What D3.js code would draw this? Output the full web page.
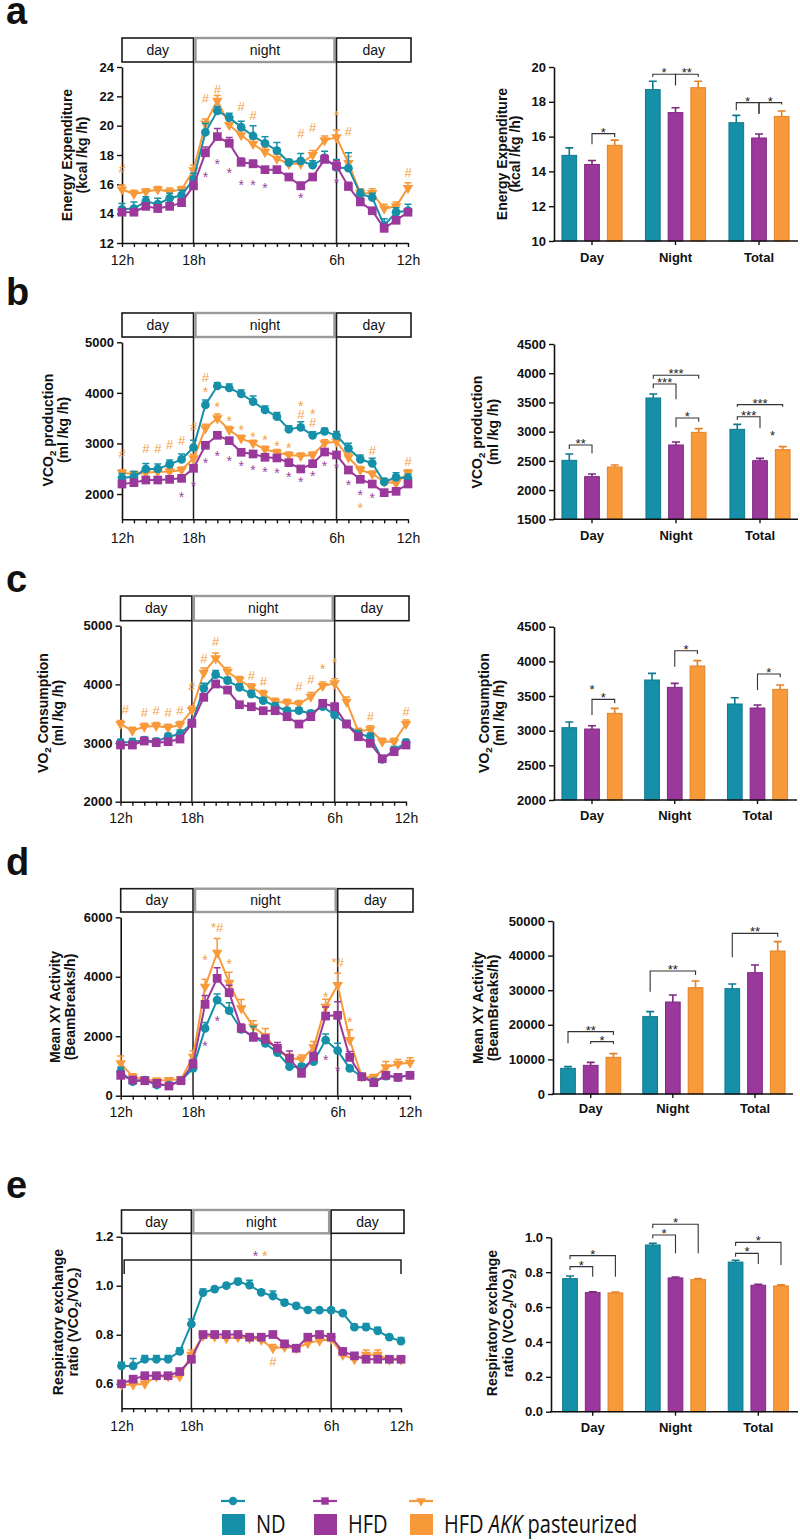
<!DOCTYPE html>
<html><head><meta charset="utf-8">
<script src="https://cdn.jsdelivr.net/npm/d3@7/dist/d3.min.js"></script>
<style>body{margin:0;background:#fff}svg{display:block}</style>
</head><body>
<svg id="chart" width="800" height="1540"></svg>
<script>
// ---------------- DATA ----------------
const hourIdx = [0,1,2,3,4,5,6,7,8,9,10,11,12,13,14,15,16,17,18,19,20,21,22,23,24];
const xLabelIdx = [0,6,18,24];
const xLabels = ["12h","18h","6h","12h"];
const barCats = ["Day","Night","Total"];
const seriesKeys = ["ND","HFD","AKK"];
const legendLabels = ["ND","HFD","HFD AKK pasteurized"];

// a: Energy expenditure
const aND  = [14.3,14.35,14.85,14.65,15.05,15.25,16.35,19.55,21.0,20.55,19.9,19.3,18.8,18.3,17.5,17.6,17.3,17.8,17.15,17.1,15.35,15.1,13.2,14.1,14.2];
const aHFD = [14.1,14.1,14.5,14.35,14.5,14.75,15.9,18.15,19.25,18.8,17.5,17.4,17.0,17.0,16.5,15.9,16.5,17.7,17.25,15.85,14.8,14.2,13.0,13.55,14.1];
const aAKK = [15.65,15.35,15.5,15.65,15.5,15.65,16.95,20.15,21.7,20.05,19.35,18.75,18.2,17.75,17.4,17.4,18.0,19.0,19.2,17.45,15.4,15.4,14.35,14.5,15.75];
const aNDerr  = [0.4,0.45,0.3,0.4,0.35,0.35,0.4,0.6,0.3,0.3,0.4,0.7,0.45,0.55,0.2,0.5,0.3,0.45,0.55,1.05,0.3,0.3,0.45,0.3,0.45];
const aHFDerr = [0.2,0.2,0.2,0.25,0.2,0.25,0.3,0.4,0.55,0.4,0.3,0.25,0.2,0.2,0.2,0.25,0.2,0.3,0.35,0.3,0.25,0.2,0.3,0.2,0.2];
const aAKKerr = [0.3,0.25,0.2,0.2,0.25,0.2,0.35,0.3,0.35,0.3,0.3,0.3,0.3,0.3,0.3,0.3,0.3,0.3,0.5,0.45,0.3,0.3,0.3,0.3,0.35];
const aAnn = [["o",0,17.1,"#"],["o",7,21.85,"#"],["o",8,22.5,"#"],["o",10,21.3,"#"],["o",11,20.7,"#"],["o",15,19.45,"#"],["o",16,19.9,"#"],["o",18,20.9,"*"],["o",19,19.6,"#"],["o",24,16.85,"#"],
  ["p",7,16.7,"*"],["p",8,17.6,"*"],["p",9,17.0,"*"],["p",10,16.17,"*"],["p",11,16.17,"*"],["p",12,15.95,"*"],["p",15,15.27,"*"],["p",18,16.33,"*"]];
const aBarND = [14.92,18.7,16.8], aBarNDerr = [0.43,0.48,0.42];
const aBarHFD = [14.4,17.38,15.92], aBarHFDerr = [0.23,0.28,0.23];
const aBarAKK = [15.5,18.81,17.16], aBarAKKerr = [0.3,0.37,0.31];
const aBrk = [[0,1,2,16.17,15.56,15.98,"*"],[1,0,1,19.58,19.43,18.95,"*"],[1,1,2,19.58,18.95,19.43,"**"],[2,0,1,17.95,17.51,17.32,"*"],[2,1,2,17.95,17.32,17.85,"*"]];
const aStars = [];

// b: VCO2
const bND  = [2320,2343,2495,2495,2587,2686,2920,3761,4136,4097,3978,3827,3662,3530,3280,3319,3161,3240,3154,2904,2686,2607,2238,2330,2310];
const bHFD = [2198,2225,2277,2277,2290,2310,2508,2963,3161,3055,2825,2792,2726,2713,2620,2495,2600,2831,2772,2475,2290,2198,2027,2053,2198];
const bAKK = [2422,2390,2422,2442,2442,2475,2706,3299,3497,3266,3101,3003,2884,2818,2772,2752,2772,3003,3036,2726,2475,2396,2244,2211,2422];
const bNDerr  = [86,100,110,100,86,105,145,100,66,80,80,112,80,80,70,112,72,60,80,100,86,100,72,92,86];
const bHFDerr = [40,40,45,40,40,45,60,60,70,60,50,50,50,50,50,50,50,55,60,60,50,50,40,40,40];
const bAKKerr = [60,60,60,65,60,60,80,80,85,70,60,60,60,60,60,60,60,70,80,80,70,60,60,60,60];
const bAnn = [["o",0,2805,"#"],["o",2,2904,"#"],["o",3,2904,"#"],["o",4,2989,"#"],["o",5,3055,"#"],["o",6,3332,"#"],["o",7,4308,"#"],["o",7,4084,"*"],["o",8,3780,"*"],["o",9,3497,"*"],["o",10,3319,"*"],["o",11,3187,"*"],["o",12,3121,"*"],["o",13,3016,"*"],["o",14,2970,"*"],["o",15,3807,"*"],["o",15,3583,"#"],["o",16,3649,"*"],["o",16,3411,"#"],["o",21,2858,"#"],["o",24,2640,"#"],["o",20,1783,"*"],
  ["p",5,2001,"*"],["p",6,2225,"*"],["p",7,2673,"*"],["p",8,2818,"*"],["p",9,2706,"*"],["p",10,2607,"*"],["p",11,2541,"*"],["p",12,2488,"*"],["p",13,2469,"*"],["p",14,2403,"*"],["p",15,2291,"*"],["p",16,2423,"*"],["p",17,2620,"*"],["p",18,2574,"*"],["p",19,2244,"*"],["p",20,2047,"*"],["p",21,1981,"*"]];
const bBarND = [2509,3576,3040], bBarNDerr = [109,68,85];
const bBarHFD = [2230,2772,2503], bBarHFDerr = [45,51,40];
const bBarAKK = [2395,2988,2692], bBarAKKerr = [34,63,51];
const bBrk = [[0,0,1,2772,2703,2629,"**"],[1,0,2,3964,3907,3907,"***"],[1,0,1,3815,3741,3553,"***"],[1,1,2,3234,3074,3171,"*"],[2,0,2,3462,3428,3428,"***"],[2,0,1,3256,3199,3057,"***"]];
const bStars = [[2,1.55,2971,"*"]];

// c: VO2
const cND  = [3006,3017,3051,3023,3108,3153,3335,3932,4165,4063,3949,3835,3722,3631,3551,3551,3506,3620,3478,3324,3153,3108,2722,2881,3006];
const cHFD = [2966,2966,3034,3006,3023,3068,3335,3779,4006,3903,3653,3619,3551,3551,3449,3324,3449,3676,3619,3324,3108,2994,2733,2852,2966];
const cAKK = [3324,3210,3278,3290,3261,3307,3563,4199,4443,4216,4074,3949,3835,3705,3688,3665,3790,3972,4017,3705,3193,3233,3023,3023,3324];
const cNDerr  = [60,60,50,60,60,70,70,85,70,60,60,60,50,50,50,50,50,60,60,60,60,60,60,60,60];
const cHFDerr = [40,40,40,40,40,40,60,60,60,50,50,50,50,50,50,50,50,60,60,50,50,40,40,40,40];
const cAKKerr = [60,60,60,60,60,60,70,80,90,70,60,60,60,60,60,60,70,70,80,80,60,60,60,60,70];
const cAnn = [["o",0.4,3574,"#"],["o",2,3517,"#"],["o",3,3562,"#"],["o",4,3517,"#"],["o",5,3562,"#"],["o",6,3972,"#"],["o",7,4437,"#"],["o",8,4727,"#"],["o",11,4159,"#"],["o",12,4045,"#"],["o",15,3960,"#"],["o",16,4085,"#"],["o",17,4312,"*"],["o",18,4415,"*"],["o",21,3449,"#"],["o",24,3534,"#"]];
const cBarND = [3043,3731,3385], cBarNDerr = [82,96,91];
const cBarHFD = [3024,3625,3327], cBarHFDerr = [48,58,43];
const cBarAKK = [3250,3933,3596], cBarAKKerr = [72,77,63];
const cBrk = [[0,1,2,3452,3226,3394,"*"],[1,1,2,4154,3923,4106,"*"],[2,1,2,3817,3587,3769,"*"]];
const cStars = [[0,1,3635,"*"]];

// d: XY activity
const dND  = [807,471,527,359,359,504,919,2264,3217,2859,2231,1984,1760,1446,975,975,1143,1872,1513,919,639,471,661,617,695];
const dHFD = [684,527,504,415,325,504,1065,3072,3946,3464,2264,1962,1895,1592,1256,751,1312,2679,2702,1289,639,437,684,617,684];
const dAKK = [1087,639,549,504,527,549,1312,3666,4809,3800,2937,2320,2007,1536,1256,1222,1625,2993,3722,1872,639,617,953,1065,1110];
const dNDerr  = [150,80,60,60,60,60,150,200,200,270,150,340,150,200,150,100,120,200,250,100,80,80,80,80,100];
const dHFDerr = [150,80,80,60,60,60,150,300,360,250,150,150,150,200,250,150,150,300,460,200,100,80,100,100,100];
const dAKKerr = [250,100,80,80,60,60,200,250,480,350,300,200,250,150,150,150,200,250,400,350,100,100,200,150,170];
const dAnn = [["o",8,5661,"*#"],["o",7,4675,"*"],["o",9,4540,"*"],["o",18,4473,"*#"],["o",17,3419,"*"],["o",19,2567,"*"],["p",7,1782,"*"],["p",8,2601,"*"],["p",17,1312,"*"],["p",18,919,"*"]];
const dBarND = [7418,22351,30443], dBarNDerr = [482,1445,1349];
const dBarHFD = [8285,26590,35068], dBarHFDerr = [867,2023,2216];
const dBarAKK = [10597,30732,41330], dBarAKKerr = [1060,1927,2697];
const dBrk = [[0,0,2,18016,14643,17053,"**"],[0,1,2,15125,14450,14450,"*"],[1,0,2,35549,29577,34393,"**"],[2,0,2,46436,39499,45473,"**"]];
const dStars = [];

// e: RER
const eND  = [0.673,0.673,0.700,0.700,0.700,0.732,0.844,0.972,0.986,1.000,1.017,1.002,0.973,0.958,0.931,0.918,0.901,0.900,0.900,0.888,0.831,0.831,0.816,0.790,0.774];
const eHFD = [0.600,0.619,0.633,0.633,0.633,0.650,0.700,0.801,0.801,0.801,0.801,0.790,0.790,0.801,0.763,0.745,0.790,0.801,0.790,0.732,0.714,0.700,0.700,0.700,0.700];
const eAKK = [0.596,0.596,0.600,0.630,0.630,0.630,0.718,0.795,0.793,0.786,0.790,0.786,0.779,0.745,0.750,0.745,0.766,0.776,0.782,0.718,0.700,0.718,0.718,0.698,0.698];
const eNDerr  = [0.015,0.03,0.015,0.015,0.015,0.015,0.02,0.015,0.01,0.01,0.012,0.02,0.01,0.02,0.012,0.01,0.01,0.01,0.01,0.01,0.012,0.015,0.015,0.01,0.015];
const eHFDerr = [0.008,0.01,0.01,0.01,0.01,0.01,0.012,0.01,0.01,0.01,0.01,0.01,0.01,0.01,0.01,0.01,0.01,0.01,0.01,0.01,0.01,0.01,0.01,0.01,0.01];
const eAKKerr = [0.01,0.01,0.015,0.01,0.01,0.01,0.02,0.01,0.012,0.01,0.01,0.012,0.012,0.015,0.012,0.012,0.012,0.012,0.012,0.012,0.012,0.02,0.02,0.012,0.01];
const eAnn = [["o",13,0.691,"#"],["p",11.5,1.135,"*"],["o",12.3,1.135,"*"]];
const eBracket = [0.23,24,1.105,1.048];
const eBarND = [0.763,0.956,0.858], eBarNDerr = [0.015,0.01,0.01];
const eBarHFD = [0.683,0.767,0.725], eBarHFDerr = [0.005,0.005,0.005];
const eBarAKK = [0.681,0.757,0.721], eBarAKKerr = [0.005,0.006,0.006];
const eBrk = [[0,0,2,0.895,0.874,0.774,"*"],[0,0,1,0.832,0.813,0.774,"*"],[1,0,2,1.075,1.052,0.908,"*"],[1,0,1,1.013,0.994,0.908,"*"],[2,0,2,0.971,0.950,0.841,"*"],[2,0,1,0.908,0.889,0.847,"*"]];
const eStars = [];

// ---------------- DRAWING ----------------
const svg = d3.select("#chart");
svg.append("rect").attr("width",800).attr("height",1540).attr("fill","#fff");
const COL = {ND:"#1690a8", HFD:"#9b389c", AKK:"#f8993a"};
const DARK = {ND:"#10788d", HFD:"#7e2a80", AKK:"#e3822a"};
const ANN = {o:"#f4a044", p:"#9c44a2"};
const FONT = "'Liberation Sans', Arial, Helvetica, sans-serif";
const drawOrder = ["AKK","ND","HFD"];
const sym = {
  ND: d3.symbol().type(d3.symbolCircle).size(60)(),
  HFD: d3.symbol().type(d3.symbolSquare).size(76)(),
  AKK: d3.symbol().type(d3.symbolTriangle).size(48)()
};

function styleAxis(a){
  a.select(".domain").attr("stroke","#111").attr("stroke-width",1.6);
  a.selectAll(".tick line").attr("stroke","#111").attr("stroke-width",1.4);
  a.selectAll("text").attr("font-family",FONT).attr("fill","#111").attr("font-weight","bold").attr("font-size",13);
}
function yTitle(cx, cy, parts, fs){
  const t = svg.append("text").attr("transform",`translate(${cx},${cy}) rotate(-90)`)
    .attr("text-anchor","middle").attr("dominant-baseline","central")
    .attr("font-family",FONT).attr("font-weight","bold").attr("font-size",fs).attr("fill","#111");
  let prevSub = false;
  parts.forEach(([s, sub]) => {
    const ts = t.append("tspan").text(s);
    if (sub) ts.attr("font-size", fs*0.7).attr("dy", fs*0.3);
    else if (prevSub) ts.attr("dy", -fs*0.3);
    prevSub = !!sub;
  });
}
function panelLetter(l, y){
  svg.append("text").attr("x",6).attr("y",y).attr("font-family",FONT).attr("font-weight","bold").attr("font-size",38).attr("fill","#111").text(l);
}

function linePanel(P){
  const x = d3.scaleLinear().domain([0,24]).range(P.xr);
  const y = d3.scaleLinear().domain(P.yd).range(P.yr);
  const y0 = P.yr[0];
  const g = svg.append("g");
  const boxes = [
    {a:x(0), b:x(6), t:"day", c:"#1a1a1a", w:1.6},
    {a:x(6)+2, b:x(18)-2, t:"night", c:"#9a9a9a", w:2.4},
    {a:x(18), b:x(24)+3, t:"day", c:"#1a1a1a", w:1.6}];
  boxes.forEach(bx => {
    g.append("rect").attr("x",bx.a).attr("y",P.hdr[0]).attr("width",bx.b-bx.a).attr("height",P.hdr[1]-P.hdr[0])
      .attr("fill","#fff").attr("stroke",bx.c).attr("stroke-width",bx.w);
    g.append("text").attr("x",(bx.a+bx.b)/2).attr("y",(P.hdr[0]+P.hdr[1])/2+5).attr("text-anchor","middle")
      .attr("font-family",FONT).attr("font-size",14).attr("fill","#111").text(bx.t);
  });
  [6,18].forEach(i => g.append("line").attr("x1",x(i)).attr("x2",x(i)).attr("y1",P.hdr[1]).attr("y2",y0)
    .attr("stroke","#222").attr("stroke-width",1.5));
  const xa = g.append("g").attr("transform",`translate(0,${y0})`)
    .call(d3.axisBottom(x).tickValues(hourIdx).tickSize(4).tickSizeOuter(0)
      .tickFormat(i => { const k = xLabelIdx.indexOf(i); return k >= 0 ? xLabels[k] : ""; }));
  styleAxis(xa);
  xa.selectAll("text").attr("font-weight","normal").attr("font-size",14).attr("y",P.xlab - y0).attr("dy",0);
  const ya = g.append("g").attr("transform",`translate(${P.xr[0]},0)`)
    .call(d3.axisLeft(y).tickValues(P.yt).tickSize(5).tickSizeOuter(0).tickFormat(P.fmt));
  styleAxis(ya);
  if (P.bracket){
    const [i0,i1,v,leg] = P.bracket;
    g.append("path").attr("d",`M${x(i0)},${y(leg)}V${y(v)}H${x(i1)}V${y(leg)}`).attr("fill","none").attr("stroke","#222").attr("stroke-width",1.5);
  }
  const data = {ND:P.nd, HFD:P.hfd, AKK:P.akk};
  const errs = {ND:P.nde, HFD:P.hfde, AKK:P.akke};
  const line = d3.line().x((d,i) => x(i)).y(d => y(d));
  drawOrder.forEach(k => {
    const vals = data[k];
    g.append("path").attr("d", line(vals)).attr("fill","none").attr("stroke",COL[k]).attr("stroke-width",2);
    vals.forEach((v,i) => {
      const yt = y(v + errs[k][i]);
      g.append("path").attr("d",`M${x(i)},${y(v)}V${yt}M${x(i)-3.5},${yt}H${x(i)+3.5}`)
        .attr("stroke",COL[k]).attr("stroke-width",1.5).attr("fill","none");
    });
    g.selectAll(null).data(vals).enter().append("path")
      .attr("transform",(d,i) => `translate(${x(i)},${y(d)})` + (k === "AKK" ? " rotate(180)" : ""))
      .attr("d", sym[k]).attr("fill",COL[k]);
  });
  P.ann.forEach(([c,i,v,t]) => {
    const hasHash = t.includes("#");
    const fs = hasHash ? 13 : 14;
    const off = hasHash ? 0.36*fs : 0.58*fs;
    g.append("text").attr("x",x(i)).attr("y",y(v)+off).attr("text-anchor","middle")
      .attr("font-family",FONT).attr("font-size",fs).attr("fill",ANN[c]).text(t);
  });
  yTitle(P.tx[0], P.ty, P.t1, 14);
  yTitle(P.tx[1], P.ty, P.t2, 14);
}

function barPanel(P){
  const y = d3.scaleLinear().domain(P.yd).range(P.yr);
  const gx = d3.scalePoint().domain(barCats).range(P.cr);
  const sx = d3.scaleLinear().domain([0,2]).range([-22.7,22.7]);
  const bw = 14.7, y0 = P.yr[0];
  const g = svg.append("g");
  const vals = {ND:P.nd, HFD:P.hfd, AKK:P.akk};
  const errs = {ND:P.nde, HFD:P.hfde, AKK:P.akke};
  seriesKeys.forEach((k,s) => {
    barCats.forEach((c,j) => {
      const cx = gx(c) + sx(s), v = vals[k][j], e = errs[k][j];
      g.append("path").attr("d",`M${cx},${y(v)}V${y(v+e)}M${cx-4},${y(v+e)}H${cx+4}`)
        .attr("stroke",DARK[k]).attr("stroke-width",1.6).attr("fill","none");
      g.append("rect").attr("x",cx-bw/2).attr("y",y(v)).attr("width",bw).attr("height",y0-y(v))
        .attr("fill",COL[k]).attr("stroke",DARK[k]).attr("stroke-width",1);
    });
  });
  const ya = g.append("g").attr("transform",`translate(${P.ax},0)`)
    .call(d3.axisLeft(y).tickValues(P.yt).tickSize(5).tickSizeOuter(0).tickFormat(P.fmt));
  styleAxis(ya);
  g.append("line").attr("x1",P.ax-0.8).attr("x2",P.xe).attr("y1",y0).attr("y2",y0).attr("stroke","#111").attr("stroke-width",1.6);
  barCats.forEach(c => {
    g.append("line").attr("x1",gx(c)).attr("x2",gx(c)).attr("y1",y0).attr("y2",y0+4).attr("stroke","#111").attr("stroke-width",1.4);
    g.append("text").attr("x",gx(c)).attr("y",P.lab).attr("text-anchor","middle").attr("font-family",FONT)
      .attr("font-weight","bold").attr("font-size",13).attr("fill","#111").text(c);
  });
  P.brk.forEach(([gi,a,b,v,la,lb,t]) => {
    const xa = gx(barCats[gi]) + sx(a), xb = gx(barCats[gi]) + sx(b);
    g.append("path").attr("d",`M${xa},${y(la)}V${y(v)}H${xb}V${y(lb)}`).attr("fill","none").attr("stroke","#333").attr("stroke-width",1.1);
    g.append("text").attr("x",(xa+xb)/2).attr("y",y(v)+3).attr("text-anchor","middle").attr("font-family",FONT)
      .attr("font-size",13).attr("fill","#222").text(t);
  });
  P.stars.forEach(([gi,s,v,t]) => {
    g.append("text").attr("x",gx(barCats[gi]) + sx(s)).attr("y",y(v)+7).attr("text-anchor","middle").attr("font-family",FONT)
      .attr("font-size",13).attr("fill","#222").text(t);
  });
  yTitle(P.tx[0], P.ty, P.t1, 14);
  yTitle(P.tx[1], P.ty, P.t2, 14);
}

const f0 = d3.format("d"), f1 = d3.format(".1f");

// ---- panel a ----
panelLetter("a", 24);
linePanel({xr:[122,408], yd:[12,24], yr:[243,67], yt:[12,14,16,18,20,22,24], fmt:f0, hdr:[38,62], xlab:265,
  nd:aND, hfd:aHFD, akk:aAKK, nde:aNDerr, hfde:aHFDerr, akke:aAKKerr, ann:aAnn,
  tx:[67,82], ty:155, t1:[["Energy Expenditure"]], t2:[["(kcal /kg /h)"]]});
barPanel({yd:[10,20], yr:[241,67], yt:[10,12,14,16,18,20], fmt:f0, ax:554, xe:798, cr:[592,759], lab:262,
  nd:aBarND, hfd:aBarHFD, akk:aBarAKK, nde:aBarNDerr, hfde:aBarHFDerr, akke:aBarAKKerr, brk:aBrk, stars:aStars,
  tx:[502,515], ty:154, t1:[["Energy Expenditure"]], t2:[["(kcal /kg /h)"]]});

// ---- panel b ----
panelLetter("b", 305);
linePanel({xr:[122,408], yd:[1500,5000], yr:[519.3,342.3], yt:[2000,3000,4000,5000], fmt:f0, hdr:[313,337], xlab:543,
  nd:bND, hfd:bHFD, akk:bAKK, nde:bNDerr, hfde:bHFDerr, akke:bAKKerr, ann:bAnn,
  tx:[48,63], ty:430, t1:[["VCO"],["2",true],[" production"]], t2:[["(ml /kg /h)"]]});
barPanel({yd:[1500,4500], yr:[519.3,344], yt:[1500,2000,2500,3000,3500,4000,4500], fmt:f0, ax:554, xe:798, cr:[592,760], lab:540,
  nd:bBarND, hfd:bBarHFD, akk:bBarAKK, nde:bBarNDerr, hfde:bBarHFDerr, akke:bBarAKKerr, brk:bBrk, stars:bStars,
  tx:[477,493], ty:432, t1:[["VCO"],["2",true],[" production"]], t2:[["(ml /kg /h)"]]});

// ---- panel c ----
panelLetter("c", 592);
linePanel({xr:[120.5,406], yd:[2000,5000], yr:[801.7,625.7], yt:[2000,3000,4000,5000], fmt:f0, hdr:[596,620.7], xlab:823,
  nd:cND, hfd:cHFD, akk:cAKK, nde:cNDerr, hfde:cHFDerr, akke:cAKKerr, ann:cAnn,
  tx:[43,58], ty:713, t1:[["VO"],["2",true],[" Consumption"]], t2:[["(ml /kg /h)"]]});
barPanel({yd:[2000,4500], yr:[800,626.7], yt:[2000,2500,3000,3500,4000,4500], fmt:f0, ax:554, xe:797, cr:[592,757.5], lab:820,
  nd:cBarND, hfd:cBarHFD, akk:cBarAKK, nde:cBarNDerr, hfde:cBarHFDerr, akke:cBarAKKerr, brk:cBrk, stars:cStars,
  tx:[483.7,499], ty:713, t1:[["VO"],["2",true],[" Consumption"]], t2:[["(ml /kg /h)"]]});

// ---- panel d ----
panelLetter("d", 875);
linePanel({xr:[120.7,410], yd:[0,6000], yr:[1095.7,917.3], yt:[0,2000,4000,6000], fmt:f0, hdr:[888.7,912], xlab:1117,
  nd:dND, hfd:dHFD, akk:dAKK, nde:dNDerr, hfde:dHFDerr, akke:dAKKerr, ann:dAnn,
  tx:[55,70], ty:1007, t1:[["Mean XY Activity"]], t2:[["(BeamBreaks/h)"]]});
barPanel({yd:[0,50000], yr:[1094,921], yt:[0,10000,20000,30000,40000,50000], fmt:f0, ax:553, xe:793, cr:[590.7,755], lab:1113,
  nd:dBarND, hfd:dBarHFD, akk:dBarAKK, nde:dBarNDerr, hfde:dBarHFDerr, akke:dBarAKKerr, brk:dBrk, stars:dStars,
  tx:[477.5,493], ty:1008, t1:[["Mean XY Activity"]], t2:[["(BeamBreaks/h)"]]});

// ---- panel e ----
panelLetter("e", 1198);
linePanel({xr:[121.5,401], yd:[0.5,1.2], yr:[1408.3,1236.7], yt:[0.6,0.8,1.0,1.2], fmt:f1, hdr:[1210,1233.3], xlab:1431, bracket:eBracket,
  nd:eND, hfd:eHFD, akk:eAKK, nde:eNDerr, hfde:eHFDerr, akke:eAKKerr, ann:eAnn,
  tx:[58,72.5], ty:1322, t1:[["Respiratory exchange"]], t2:[["ratio (VCO"],["2",true],["/VO"],["2",true],[")"]]});
barPanel({yd:[0,1], yr:[1411.7,1237.3], yt:[0,0.2,0.4,0.6,0.8,1.0], fmt:f1, ax:551, xe:798, cr:[592.7,758.3], lab:1432,
  nd:eBarND, hfd:eBarHFD, akk:eBarAKK, nde:eBarNDerr, hfde:eBarHFDerr, akke:eBarAKKerr, brk:eBrk, stars:eStars,
  tx:[492,507.5], ty:1323, t1:[["Respiratory exchange"]], t2:[["ratio (VCO"],["2",true],["/VO"],["2",true],[")"]]});

// ---- legend ----
const legX = [222,314,410];
seriesKeys.forEach((k,i) => {
  const x0 = legX[i];
  svg.append("line").attr("x1",x0-1).attr("x2",x0+23).attr("y1",1501).attr("y2",1501).attr("stroke",COL[k]).attr("stroke-width",2.2);
  svg.append("path").attr("transform",`translate(${x0+11},1501)` + (k === "AKK" ? " rotate(180)" : ""))
    .attr("d", d3.symbol().type(k==="ND"?d3.symbolCircle:k==="HFD"?d3.symbolSquare:d3.symbolTriangle).size(k==="AKK"?40:55)()).attr("fill",COL[k]);
  svg.append("rect").attr("x",x0).attr("y",1514).attr("width",23).attr("height",21).attr("fill",COL[k]);
  const t = svg.append("text").attr("transform",`translate(${x0+34},1533) scale(1,1.28)`)
    .attr("font-family","'Open Sans', 'Noto Sans', sans-serif").attr("font-size",20).attr("fill","#111");
  if (k === "AKK"){
    t.append("tspan").text("HFD ");
    t.append("tspan").attr("font-style","italic").text("AKK");
    t.append("tspan").text(" pasteurized");
  } else t.text(legendLabels[i]);
});
</script>
</body></html>
